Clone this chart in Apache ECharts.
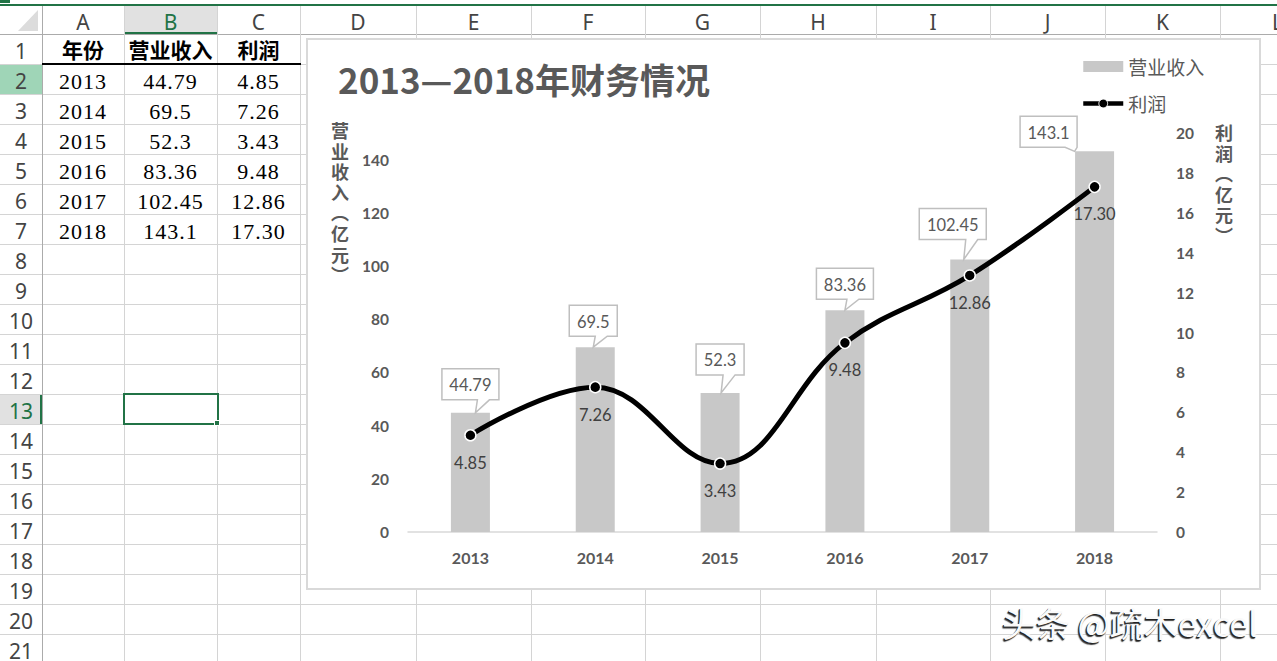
<!DOCTYPE html>
<html><head><meta charset="utf-8">
<script src="https://cdn.jsdelivr.net/npm/echarts/dist/echarts.min.js"></script>
<style>
html,body{margin:0;padding:0;width:1277px;height:661px;overflow:hidden;background:#fff;}
#sheet{position:absolute;left:0;top:0;width:1277px;height:661px;overflow:hidden;}
#sheet div{position:absolute;box-sizing:border-box;}
.t{display:flex;align-items:center;justify-content:center;white-space:nowrap;}
#chart{position:absolute;left:306px;top:38px;width:951px;height:548px;border:2px solid #d9d9d9;background:#fff;}
#wm{position:absolute;left:1002px;top:606px;font:34px/1 "Noto Sans CJK SC",sans-serif;color:#fafafa;white-space:nowrap;
 text-shadow:-1px 1px 0 #222,-1.5px 1.5px 1px #444;}
</style></head>
<body>
<div id="sheet"></div>
<div id="chart"></div>
<div id="wm">头条 @疏木excel</div>
<script>
// ---- data ----
const years = ['2013','2014','2015','2016','2017','2018'];
const revenue = [44.79, 69.5, 52.3, 83.36, 102.45, 143.1];
const profit = [4.85, 7.26, 3.43, 9.48, 12.86, 17.30];
const tableHeaders = ['年份','营业收入','利润'];
const colLetters = ['A','B','C','D','E','F','G','H','I','J','K','L'];
const chartTitle = '2013—2018年财务情况';
const seriesNames = ['营业收入','利润'];
const leftAxisTitle = '营业收入（亿元）';
const rightAxisTitle = '利润（亿元）';

// ---- spreadsheet backdrop ----
const sheet = document.getElementById('sheet');
function add(css, text, cls){
  const d = document.createElement('div');
  if (cls) d.className = cls;
  Object.assign(d.style, css);
  if (text != null) d.textContent = text;
  sheet.appendChild(d); return d;
}
const colX = [0,42,124,217,300,416,531,645,760,876,990,1105,1220,1335];
const hTop = 6, hBot = 34, rowH = 30, nRows = 21;
add({left:'0px',top:'4px',width:'1277px',height:'2px',background:'#217346'});
add({left:'0px',top:'0px',width:'10px',height:'3px',background:'#217346'});
add({left:'124px',top:hTop+'px',width:'93px',height:(hBot-hTop)+'px',background:'#e1e1e1',borderBottom:'2px solid #217346'});
add({left:'0px',top:(hBot+rowH)+'px',width:'42px',height:rowH+'px',background:'#9fd5b7'});
add({left:'0px',top:(hBot+12*rowH)+'px',width:'42px',height:rowH+'px',background:'#e1e1e1',borderRight:'2px solid #217346'});
add({left:'18px',top:'10px',width:'0px',height:'0px',borderLeft:'20px solid transparent',borderBottom:'21px solid #dcdcdc'});
for (let r = 0; r <= nRows; r++) {
  const y = hBot + r*rowH;
  add({left:'0px',top:y+'px',width:'1277px',height:'1px',background: r===0 ? '#ababab' : '#d4d4d4'});
}
for (let i = 1; i < colX.length; i++) {
  add({left:colX[i]+'px',top:hTop+'px',width:'1px',height:(661-hTop)+'px',background: i===1 ? '#ababab' : '#d4d4d4'});
}
colLetters.forEach((L,i)=>{
  add({left:colX[i+1]+'px',top:(hTop+2)+'px',width:(colX[i+2]-colX[i+1])+'px',height:(hBot-hTop)+'px',
       font:'21px "Noto Sans",sans-serif',color: L==='B' ? '#217346' : '#444'}, L, 't');
});
for (let r = 1; r <= nRows; r++) {
  add({left:'0px',top:(hBot+(r-1)*rowH+2)+'px',width:'42px',height:rowH+'px',
       font:'21px "Noto Sans",sans-serif',color: r===13 ? '#217346' : '#444'}, String(r), 't');
}
tableHeaders.forEach((h,i)=>{
  add({left:colX[i+1]+'px',top:hBot+'px',width:(colX[i+2]-colX[i+1])+'px',height:rowH+'px',
       font:'bold 21px "Noto Sans CJK SC",sans-serif',color:'#000'}, h, 't');
});
add({left:'42px',top:(hBot+rowH-1)+'px',width:'259px',height:'2px',background:'#000'});
years.forEach((y,k)=>{
  const vals = [y, String(revenue[k]), profit[k].toFixed(2)];
  vals.forEach((v,i)=>{
    add({left:colX[i+1]+'px',top:(hBot+(k+1)*rowH+3)+'px',width:(colX[i+2]-colX[i+1])+'px',height:rowH+'px',
         font:'22px "Liberation Serif",serif',letterSpacing:'1px',color:'#000'}, v, 't');
  });
});
add({left:'123px',top:(hBot+12*rowH-1)+'px',width:'96px',height:'32px',border:'2px solid #217346'});
add({left:'214px',top:(hBot+13*rowH-4)+'px',width:'6px',height:'6px',background:'#217346',border:'1px solid #fff'});

// ---- chart ----
const vchars = s => s.replace(/（/g,'︵').replace(/）/g,'︶').split('');
const cv = document.createElement('canvas').getContext('2d');
const calloutFont = '16.5px Lato';
function textW(s){ cv.font = calloutFont; return cv.measureText(s).width; }
// callout placement tweaks (label layout only)
const boxShift = [0,-2,0,0,-17,-46];
const boxGap = [13,11,18,11,20,4];
const tipShift = [5,-2,1,0,-6,-20];

function verticalTitle(str, cx, top){
  return vchars(str).map((c,i)=>({type:'text',x:cx,y:top+i*20.6,
    style:{text:c,font:'bold 18px "Noto Sans CJK SC"',fill:'#595959',align:'center',verticalAlign:'top'}}));
}

const chart = echarts.init(document.getElementById('chart'), null, {renderer:'svg', width:951, height:548});
const labelFont = 'Lato, "Noto Sans CJK SC", sans-serif';
chart.setOption({
  animation:false,
  backgroundColor:'#fff',
  title:{text:chartTitle,left:30,top:21,padding:0,
    textStyle:{fontSize:35,fontWeight:'bold',color:'#595959',fontFamily:'"Noto Sans CJK SC", sans-serif'}},
  legend:{orient:'vertical',left:773,top:17,itemWidth:40,itemHeight:11,itemGap:18,padding:0,
    textStyle:{fontSize:19,color:'#595959',fontFamily:'"Noto Sans CJK SC", sans-serif'},
    data:[{name:seriesNames[0],icon:'rect'},
          {name:seriesNames[1],lineStyle:{width:4.5,color:'#000'},itemStyle:{color:'#000',borderColor:'#fff',borderWidth:1}}]},
  grid:{left:100,top:93,width:749,height:399,containLabel:false},
  xAxis:{type:'category',data:years,
    axisLine:{lineStyle:{color:'#d9d9d9',width:1.5}},axisTick:{show:false},
    axisLabel:{margin:17,fontSize:16,fontWeight:'bold',color:'#595959',fontFamily:labelFont}},
  yAxis:[
    {type:'value',min:0,max:150,interval:20,splitLine:{show:false},axisLine:{show:false},axisTick:{show:false},
     axisLabel:{margin:19,fontSize:15.5,fontWeight:'bold',color:'#595959',fontFamily:labelFont,
       formatter:v=> v>140 ? '' : String(v)}},
    {type:'value',min:0,max:20,interval:2,splitLine:{show:false},axisLine:{show:false},axisTick:{show:false},
     axisLabel:{margin:19,fontSize:15.5,fontWeight:'bold',color:'#595959',fontFamily:labelFont}}
  ],
  graphic:[].concat(verticalTitle(leftAxisTitle, 32, 81), verticalTitle(rightAxisTitle, 916, 83)),
  series:[
    {name:seriesNames[0],type:'bar',yAxisIndex:0,data:revenue,barWidth:39,z:1,
     itemStyle:{color:'#c8c8c8'}},
    {type:'custom',yAxisIndex:0,z:4,silent:true,
     data:revenue.map((v,i)=>[i,v]),encode:{x:0,y:1},
     renderItem:(params,api)=>{
       const k = params.dataIndex;
       const p = api.coord([api.value(0), api.value(1)]);
       const txt = String(revenue[k]);
       const w = Math.round(textW(txt) + 15), h = 31;
       const cx = p[0] + boxShift[k];
       const by = p[1] - boxGap[k], ty = by - h;
       const x0 = cx - w/2, x1 = cx + w/2;
       const tipX = p[0] + tipShift[k];
       let b0 = tipX + 2, b1 = tipX + 14;
       if (b1 > x1) { b1 = x1; b0 = x1 - 12; }
       const pts = [[x0,ty],[x1,ty],[x1,by],[b1,by],[tipX,p[1]],[b0,by],[x0,by]];
       return {type:'group',children:[
         {type:'polygon',shape:{points:pts},style:{fill:'#fff',stroke:'#bfbfbf',lineWidth:1.5}},
         {type:'text',x:cx,y:ty+h/2+1,style:{text:txt,fill:'#595959',font:calloutFont,align:'center',verticalAlign:'middle'}}
       ]};
     }},
    {name:seriesNames[1],type:'line',yAxisIndex:1,data:profit,smooth:0.4,z:3,
     symbol:'circle',symbolSize:11,
     lineStyle:{color:'#000',width:5},
     itemStyle:{color:'#000',borderColor:'#fff',borderWidth:1.5},
     label:{show:true,position:'bottom',distance:13,fontSize:16.5,color:'#404040',fontFamily:labelFont,
       formatter:p=>p.value.toFixed(2)}}
  ]
});
</script>
</body></html>
